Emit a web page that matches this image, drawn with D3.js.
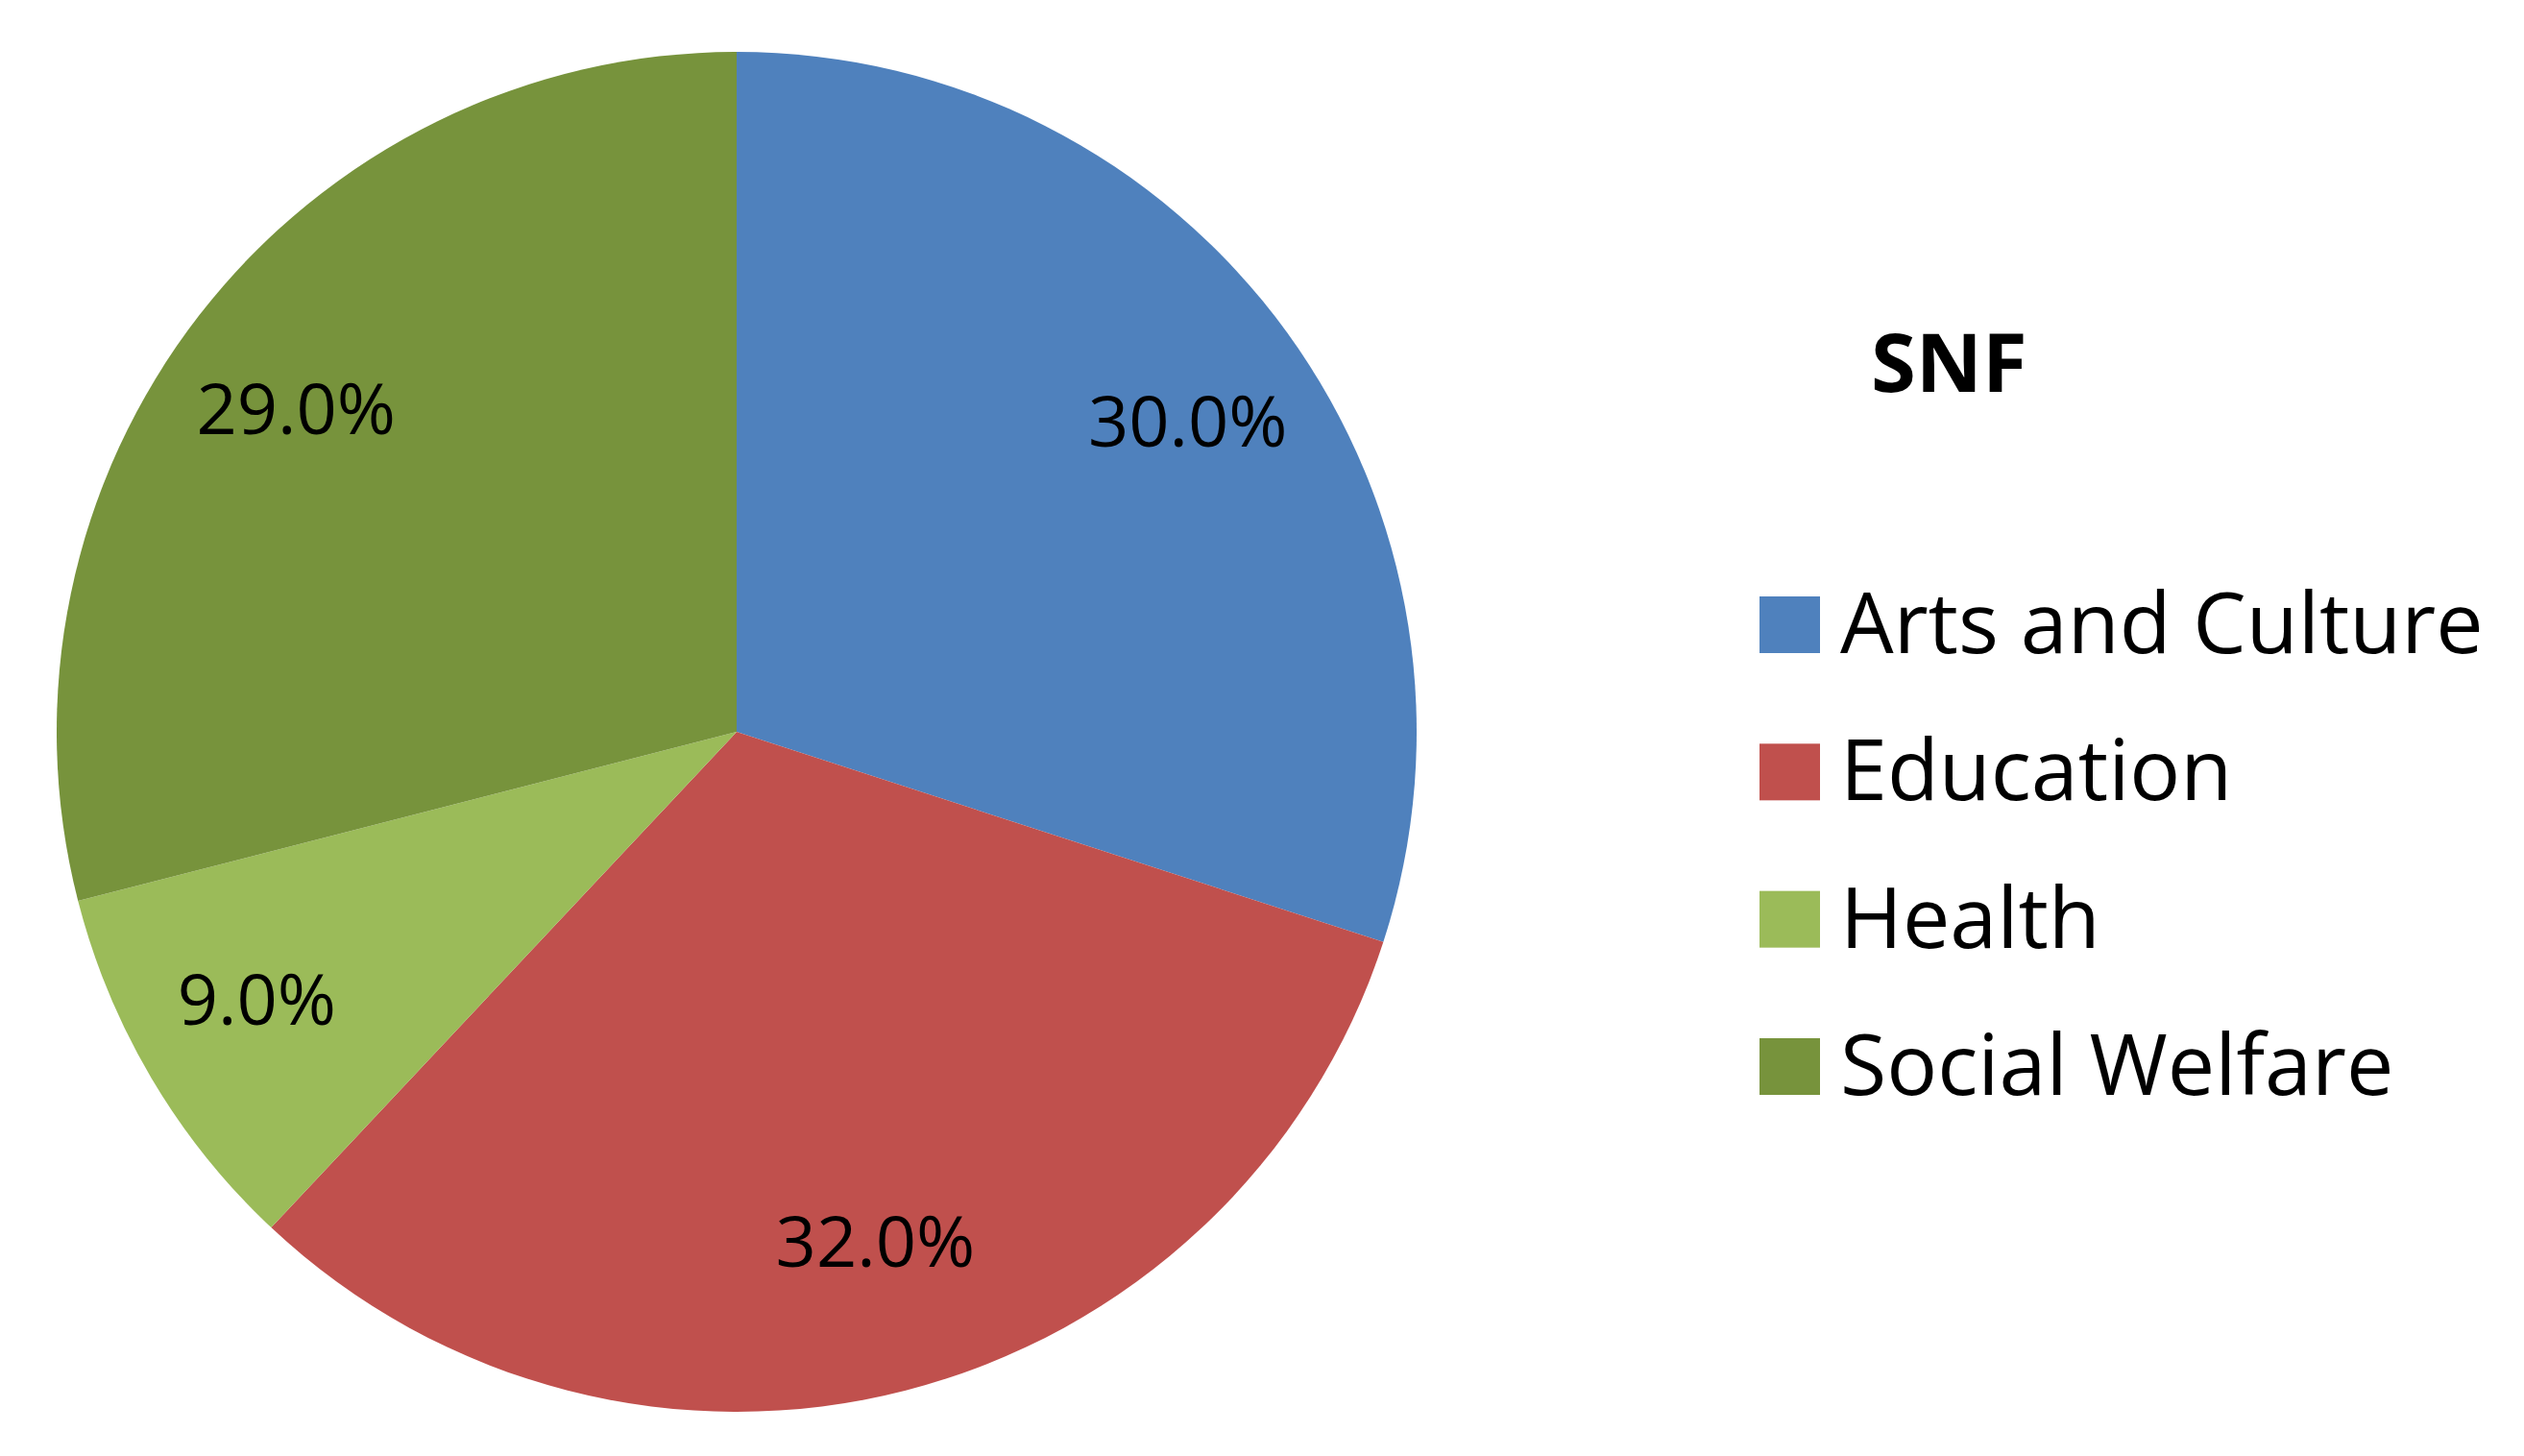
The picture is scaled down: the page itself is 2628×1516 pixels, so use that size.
<!DOCTYPE html>
<html><head><meta charset="utf-8">
<script src="https://cdn.jsdelivr.net/npm/d3@7"></script>
<style>html,body{margin:0;padding:0;background:#fff;}svg{display:block;}</style>
</head><body>
<script>
const categories = ["Arts and Culture", "Education", "Health", "Social Welfare"];
const values = [30.0, 32.0, 9.0, 29.0];
const colors = ["#4F81BD", "#C0504D", "#9BBB59", "#77933C"];
const title = "SNF";

const W = 2628, H = 1516;
const cx = 767, cy = 762, R = 708;

const svg = d3.select("body").append("svg").attr("width", W).attr("height", H);
const data = categories.map((c, i) => ({ cat: c, value: values[i], color: colors[i] }));

const pie = d3.pie().value(d => d.value).sort(null);
const arc = d3.arc().innerRadius(0).outerRadius(R);
const arcs = pie(data);

const g = svg.append("g").attr("transform", `translate(${cx},${cy})`);
g.selectAll("path").data(arcs).enter().append("path")
  .attr("d", arc).attr("fill", d => d.data.color);

// label placement: elliptical "best fit" around the slice mid-angle
const mid = d => (d.startAngle + d.endAngle) / 2;
const rx = R * 0.82, ry = R * 0.775;
const fmt = d3.format(".1f");
g.selectAll("text.lbl").data(arcs).enter().append("text")
  .attr("class", "lbl")
  .attr("x", d => rx * Math.sin(mid(d)))
  .attr("y", d => -ry * Math.cos(mid(d)) + 26)
  .attr("text-anchor", "middle")
  .attr("font-family", "Open Sans, sans-serif")
  .attr("font-size", 74)
  .attr("fill", "#000")
  .text(d => fmt(d.data.value) + "%");

svg.append("text")
  .attr("x", 1948).attr("y", 408)
  .attr("font-family", "Open Sans, sans-serif")
  .attr("font-weight", "bold")
  .attr("font-size", 85)
  .attr("fill", "#000")
  .text(title);

const legendY = d3.scalePoint().domain(categories).range([621, 1081]);
const lg = svg.append("g");
const items = lg.selectAll("g").data(data).enter().append("g")
  .attr("transform", d => `translate(1832,${legendY(d.cat)})`);
items.append("rect").attr("width", 63).attr("height", 59).attr("fill", d => d.color);
items.append("text")
  .attr("x", 84).attr("y", 59)
  .attr("font-family", "Open Sans, sans-serif")
  .attr("font-size", 88)
  .attr("fill", "#000")
  .text(d => d.cat);
</script>
</body></html>
